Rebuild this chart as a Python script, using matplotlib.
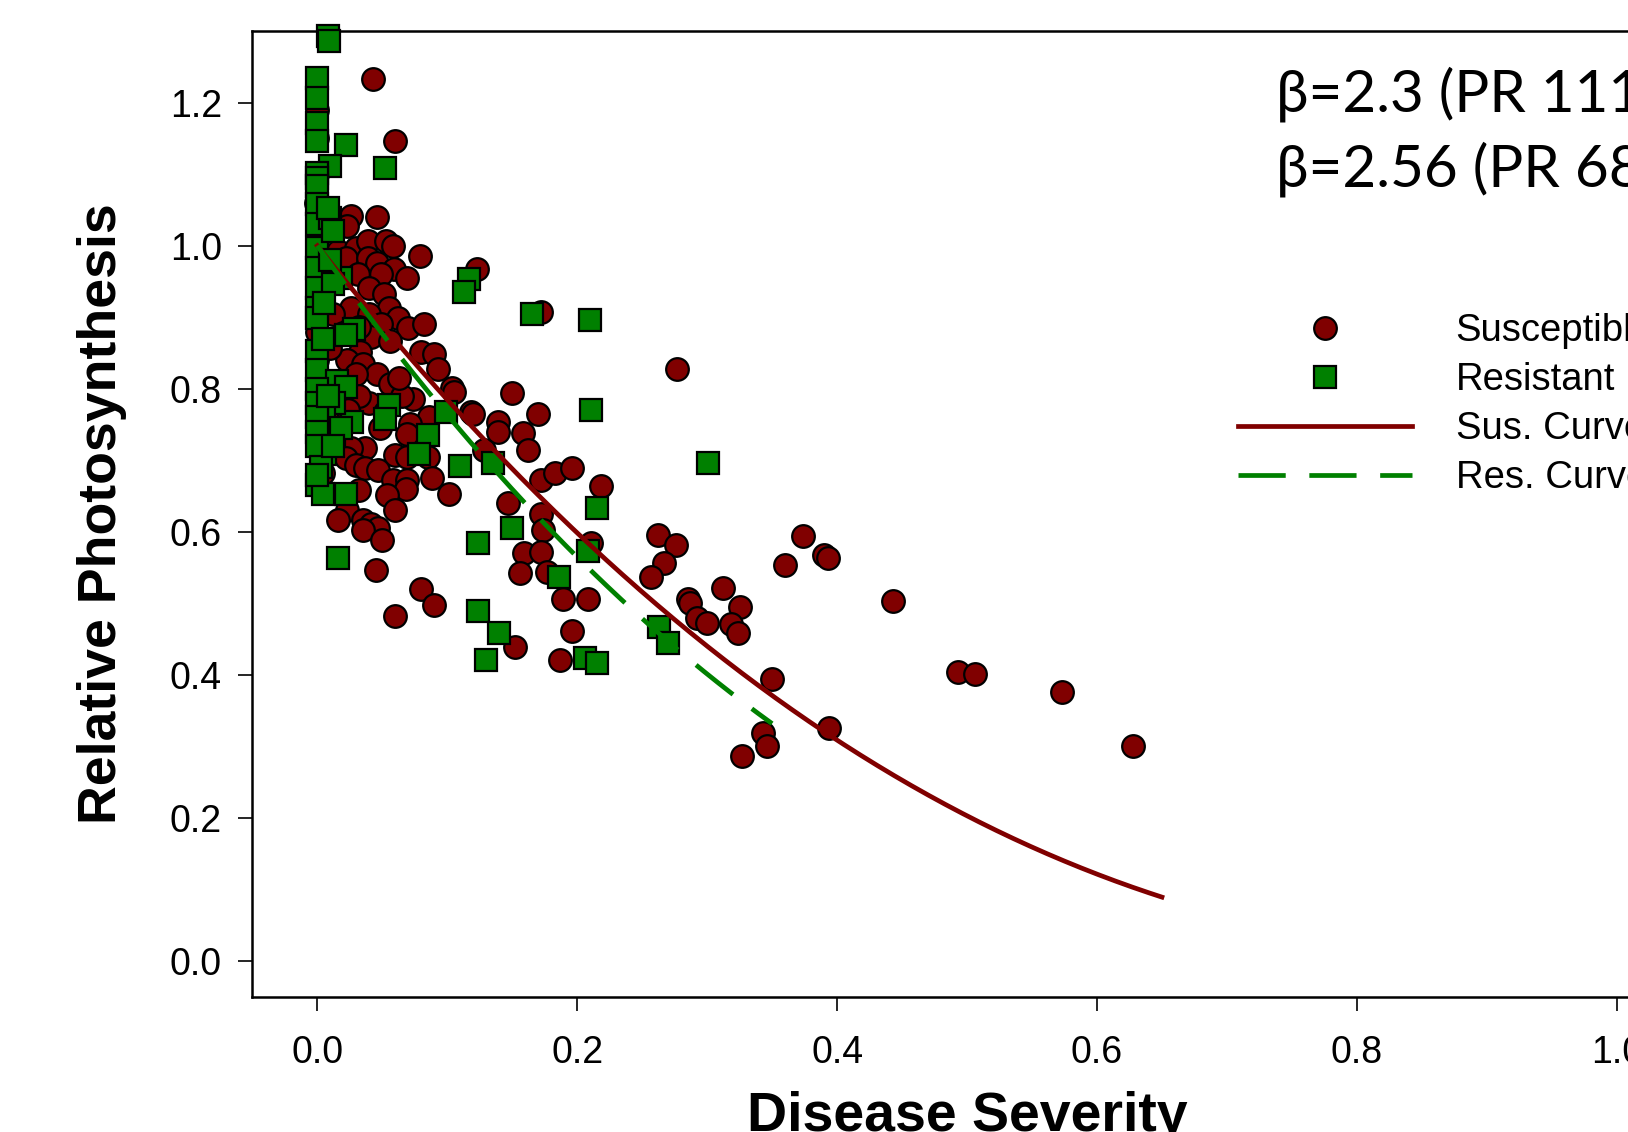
import numpy as np
import matplotlib
matplotlib.use("Agg")
import matplotlib.pyplot as plt

# Susceptible points (disease severity, relative photosynthesis)
sus_x = [0.043, 0.060,
         0.026, 0.046, 0.023, 0.016, 0.030, 0.039, 0.053, 0.058, 0.079, 0.022, 0.039, 0.046,
         0.059, 0.049, 0.069, 0.031, 0.040, 0.051, 0.026, 0.055, 0.062, 0.070, 0.082, 0.040,
         0.049, 0.041, 0.056, 0.080, 0.090, 0.093, 0.033, 0.023, 0.035, 0.046, 0.056, 0.104, 0.030,
         0.123, 0.172, 0.277,
         0.074, 0.105, 0.118, 0.086, 0.071, 0.069, 0.037, 0.026, 0.022, 0.060, 0.069, 0.085,
         0.030, 0.037, 0.047, 0.004, 0.058, 0.069, 0.088, 0.068, 0.101, 0.032, 0.054, 0.023,
         0.060, 0.016, 0.035, 0.041, 0.047, 0.035, 0.050, 0.045, 0.080, 0.090, 0.060,
         0.150, 0.170, 0.139, 0.139, 0.158, 0.162, 0.120, 0.128, 0.172, 0.183, 0.196, 0.218,
         0.147, 0.172, 0.174, 0.211, 0.159, 0.172, 0.156, 0.177, 0.189, 0.208, 0.196, 0.152, 0.187,
         0.262, 0.276, 0.267, 0.257, 0.285, 0.287, 0.292, 0.300, 0.312, 0.325, 0.318, 0.324,
         0.374, 0.360, 0.390, 0.393, 0.443, 0.493, 0.506, 0.573, 0.628, 0.350, 0.394, 0.343,
         0.346, 0.327,
         0.000, 0.000, 0.000, -0.001, 0.000, 0.000, 0.000, 0.000, 0.000, 0.002, 0.000, 0.001,
         0.006, 0.008,
         0.010, 0.018, 0.040, 0.052, 0.048, 0.032, 0.024, 0.065, 0.063, 0.012, 0.020, 0.032, 0.010]
sus_y = [1.233, 1.147,
         1.042, 1.040, 1.028, 0.993, 0.997, 1.007, 1.007, 1.000, 0.986, 0.983, 0.983, 0.976,
         0.968, 0.961, 0.955, 0.961, 0.941, 0.932, 0.913, 0.913, 0.899, 0.885, 0.891, 0.904,
         0.891, 0.872, 0.867, 0.851, 0.849, 0.828, 0.851, 0.840, 0.835, 0.821, 0.807, 0.801, 0.821,
         0.968, 0.907, 0.827,
         0.786, 0.795, 0.767, 0.760, 0.751, 0.737, 0.717, 0.717, 0.703, 0.707, 0.704, 0.704,
         0.693, 0.689, 0.686, 0.682, 0.672, 0.672, 0.676, 0.660, 0.653, 0.658, 0.651, 0.630,
         0.630, 0.616, 0.616, 0.611, 0.606, 0.602, 0.588, 0.546, 0.520, 0.498, 0.483,
         0.794, 0.765, 0.754, 0.739, 0.738, 0.714, 0.765, 0.714, 0.672, 0.682, 0.689, 0.664,
         0.641, 0.625, 0.602, 0.585, 0.570, 0.572, 0.542, 0.544, 0.506, 0.506, 0.461, 0.439, 0.421,
         0.595, 0.581, 0.557, 0.537, 0.506, 0.500, 0.480, 0.472, 0.521, 0.495, 0.471, 0.458,
         0.594, 0.553, 0.567, 0.563, 0.503, 0.404, 0.402, 0.376, 0.300, 0.395, 0.326, 0.319,
         0.301, 0.286,
         1.19, 1.15, 1.10, 1.06, 1.02, 0.98, 0.93, 0.88, 0.84, 0.79, 0.75, 0.72,
         0.80, 0.77,
         0.795, 0.780, 0.780, 0.768, 0.745, 0.790, 0.770, 0.790, 0.815, 0.905, 0.878, 0.886, 0.857]

# Resistant points
res_x = [0.008, 0.009,
         0.000, 0.000, 0.000, 0.000, 0.022, 0.052, 0.010, 0.000,
         0.000, 0.000, 0.000, 0.000, 0.000, 0.000, 0.000, 0.000, 0.000, 0.000, 0.000,
         0.010, 0.018, 0.028, 0.012, 0.022, 0.015, 0.117, 0.113, 0.008,
         0.022, 0.055, 0.052, 0.027, 0.013, 0.085, 0.078, 0.110, 0.006, 0.000, 0.004, 0.022,
         0.016, 0.013, 0.005, 0.099,
         0.211, 0.301, 0.135, 0.215, 0.150, 0.124, 0.208, 0.186, 0.124, 0.140, 0.130, 0.263,
         0.270, 0.206, 0.215,
         0.165, 0.210,
         0.000, 0.000, 0.000, 0.000, 0.000, 0.003, 0.000, 0.004, 0.005, 0.012, 0.010, 0.008,
         0.018, 0.012]
res_y = [1.293, 1.286,
         1.235, 1.207, 1.172, 1.147, 1.141, 1.109, 1.112, 1.102,
         1.095, 1.084, 1.058, 1.030, 0.997, 0.969, 0.941, 0.913, 0.899, 0.853, 0.826,
         1.039, 0.955, 0.884, 0.947, 0.875, 0.811, 0.954, 0.935, 1.053,
         0.802, 0.777, 0.758, 0.753, 0.735, 0.735, 0.709, 0.692, 0.709, 0.665, 0.653, 0.653,
         0.564, 0.780, 0.765, 0.767,
         0.771, 0.696, 0.696, 0.633, 0.606, 0.585, 0.573, 0.537, 0.489, 0.458, 0.421, 0.467,
         0.444, 0.423, 0.417,
         0.904, 0.896,
         0.80, 0.78, 0.76, 0.74, 0.72, 0.69, 0.68, 0.87, 0.92, 1.02, 0.98, 0.79,
         0.745, 0.72]

# fitted curves y = (1 - x)^beta
beta_sus = 2.3
beta_res = 2.56
sus_max = 0.65
res_max = 0.35

red = "#800000"
green = "#008000"

plt.rcParams['font.family'] = ['Liberation Sans', 'DejaVu Sans']

fig = plt.figure(figsize=(16.28, 11.32), dpi=100)
ax = fig.add_axes([0.155, 0.1194, 0.878, 0.8531])

ax.plot(sus_x, sus_y, 'o', ms=16.3, mfc=red, mec='black', mew=1.6, ls='none',
        label='Susceptible', zorder=2, clip_on=False)
ax.plot(res_x, res_y, 's', ms=16.3, mfc=green, mec='black', mew=1.6, ls='none',
        label='Resistant', zorder=3, clip_on=False)

xs = np.linspace(0, sus_max, 200)
ax.plot(xs, (1 - xs) ** beta_sus, color=red, lw=3.4, label='Sus. Curve', zorder=4)
xr = np.linspace(0, res_max, 200)
ax.plot(xr, (1 - xr) ** beta_res, color=green, lw=3.4, ls=(0, (10, 5)),
        label='Res. Curve', zorder=5)

ax.set_xlim(-0.05, 1.05)
ax.set_ylim(-0.05, 1.3)
ax.set_xticks([0.0, 0.2, 0.4, 0.6, 0.8, 1.0])
ax.set_yticks([0.0, 0.2, 0.4, 0.6, 0.8, 1.0, 1.2])
ax.set_xticklabels(['0.0', '0.2', '0.4', '0.6', '0.8', '1.0'])
ax.set_yticklabels(['0.0', '0.2', '0.4', '0.6', '0.8', '1.0', '1.2'])
ax.tick_params(axis='both', direction='out', length=10, width=1.2, labelsize=27)
ax.tick_params(axis='x', pad=17.5)
ax.tick_params(axis='y', pad=12)
for s in ax.spines.values():
    s.set_linewidth(1.8)

ax.set_xlabel('Disease Severity', fontsize=40, fontweight='bold')
ax.set_ylabel('Relative Photosynthesis', fontsize=38.6, fontweight='bold')
ax.xaxis.set_label_coords(0.5, -0.097)
ax.yaxis.set_label_coords(-0.088, 0.5)

fig.text(0.784, 0.9013, 'β=2.3 (PR 1113)', fontsize=42, family=['Lato', 'DejaVu Sans'],
         va='baseline', ha='left')
fig.text(0.784, 0.835, 'β=2.56 (PR 68)', fontsize=42, family=['Lato', 'DejaVu Sans'],
         va='baseline', ha='left')

fig.legend(loc='upper left', bbox_to_anchor=(0.7604, 0.7233), frameon=False,
           fontsize=27.5, numpoints=1, handlelength=4.55, handletextpad=1.15,
           labelspacing=0.34, borderpad=0, borderaxespad=0)

fig.savefig('out.png', dpi=100)
